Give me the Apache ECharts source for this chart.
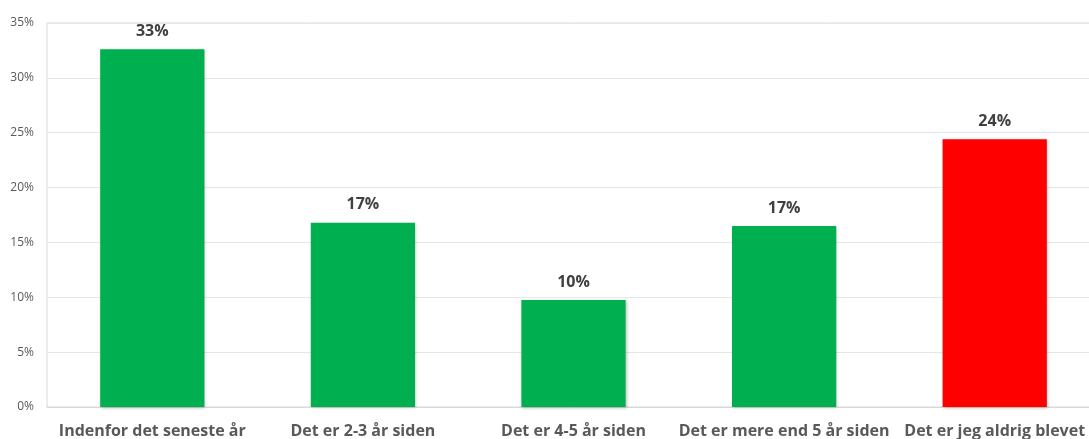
<!DOCTYPE html>
<html>
<head>
<meta charset="utf-8">
<script src="https://cdn.jsdelivr.net/npm/echarts@6/dist/echarts.min.js"></script>
<style>
html,body{margin:0;padding:0;background:#fff;}
#chart{width:1089px;height:439px;}
</style>
</head>
<body>
<div id="chart"></div>
<script>
const categories = ["Indenfor det seneste år", "Det er 2-3 år siden", "Det er 4-5 år siden", "Det er mere end 5 år siden", "Det er jeg aldrig blevet"];
const values = [32.6, 16.8, 9.75, 16.5, 24.4];
const barColors = ["#00b050", "#00b050", "#00b050", "#00b050", "#ff0000"];
const yTicks = { min: 0, max: 35, interval: 5 };

const chart = echarts.init(document.getElementById('chart'));
chart.setOption({
  animation: false,
  grid: { left: 47, top: 23, right: -11, bottom: 32, show: true, borderColor: '#d9d9d9', borderWidth: 1, containLabel: false, outerBoundsMode: 'none' },
  xAxis: {
    type: 'category',
    data: categories,
    axisLine: { show: true, lineStyle: { color: '#d9d9d9' } },
    axisTick: { show: false },
    axisLabel: { color: '#595959', fontSize: 16, fontWeight: 'bold', fontFamily: 'Open Sans', margin: 16, interval: 0 }
  },
  yAxis: {
    type: 'value',
    min: yTicks.min, max: yTicks.max, interval: yTicks.interval,
    axisLine: { show: false },
    axisTick: { show: false },
    splitLine: { lineStyle: { color: '#e6e6e6' } },
    axisLabel: { color: '#595959', fontSize: 12, fontFamily: 'Open Sans', margin: 13, formatter: '{value}%' }
  },
  series: [{
    type: 'bar',
    data: values.map((v, i) => ({ value: v, itemStyle: { color: barColors[i] } })),
    barWidth: '49.5%',
    itemStyle: { shadowColor: 'rgba(0,0,0,0.25)', shadowBlur: 3, shadowOffsetX: 1, shadowOffsetY: 1 },
    label: {
      show: true, position: 'top', distance: 10,
      color: '#404040', fontSize: 16, fontWeight: 'bold', fontFamily: 'Open Sans',
      formatter: p => Math.round(p.value) + '%'
    }
  }]
});
</script>
</body>
</html>
